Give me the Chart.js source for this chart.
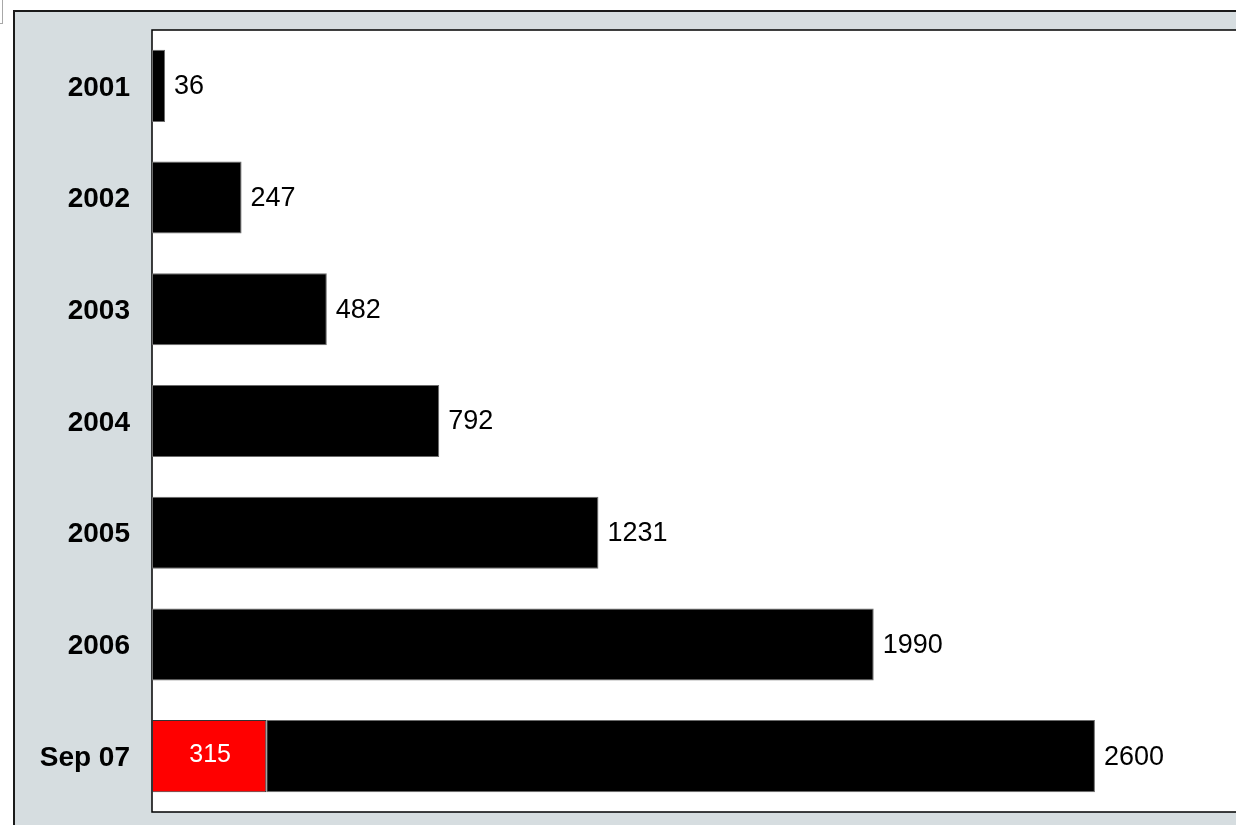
<!DOCTYPE html>
<html>
<head>
<meta charset="utf-8">
<script src="https://cdn.jsdelivr.net/npm/chart.js@4"></script>
<style>
  html, body { margin: 0; padding: 0; background: #ffffff; overflow: hidden; width: 1236px; height: 825px; }
  #wrap { position: absolute; left: 0; top: 0; width: 1260px; height: 825px; }
</style>
</head>
<body>
<div id="wrap"><canvas id="c" width="1260" height="825"></canvas></div>
<script>
const categories = ['2001', '2002', '2003', '2004', '2005', '2006', 'Sep 07'];
const totals = [36, 247, 482, 792, 1231, 1990, 2600];
const redPart = [null, null, null, null, null, null, 315];
const axisMax = 3000;

const FONT = '"Liberation Sans", Arial, sans-serif';

const framePlugin = {
  id: 'frame',
  beforeDraw(chart) {
    const ctx = chart.ctx;
    const a = chart.chartArea;
    ctx.save();
    ctx.fillStyle = '#ffffff';
    ctx.fillRect(0, 0, chart.width, chart.height);
    // small mark at top-left
    ctx.strokeStyle = '#a8a8a8';
    ctx.lineWidth = 1;
    ctx.strokeRect(-5.5, -5.5, 8, 29);
    // outer grey panel
    ctx.fillStyle = '#d6dde0';
    ctx.fillRect(14, 11, chart.width, chart.height);
    ctx.strokeStyle = '#1a1a1a';
    ctx.lineWidth = 2;
    ctx.beginPath();
    ctx.moveTo(14, chart.height + 5);
    ctx.lineTo(14, 11);
    ctx.lineTo(chart.width + 5, 11);
    ctx.stroke();
    // plot area
    ctx.fillStyle = '#ffffff';
    ctx.fillRect(a.left, a.top, a.right - a.left, a.bottom - a.top);
    ctx.strokeStyle = '#000000';
    ctx.lineWidth = 1.5;
    ctx.strokeRect(a.left, a.top, a.right - a.left, a.bottom - a.top);
    ctx.restore();
  }
};

const labelPlugin = {
  id: 'valueLabels',
  afterDatasetsDraw(chart) {
    const ctx = chart.ctx;
    ctx.save();
    ctx.textBaseline = 'middle';
    const blackMeta = chart.getDatasetMeta(1);
    blackMeta.data.forEach((bar, i) => {
      ctx.fillStyle = '#000000';
      ctx.font = '27px ' + FONT;
      ctx.textAlign = 'left';
      ctx.fillText(String(totals[i]), bar.x + 9, bar.y + 1);
    });
    const redMeta = chart.getDatasetMeta(0);
    redMeta.data.forEach((bar, i) => {
      if (redPart[i] == null) return;
      ctx.fillStyle = '#ffffff';
      ctx.font = '25px ' + FONT;
      ctx.textAlign = 'center';
      ctx.fillText(String(redPart[i]), (bar.x + bar.base) / 2 + 1, bar.y - 1);
    });
    ctx.restore();
  }
};

new Chart(document.getElementById('c'), {
  type: 'bar',
  data: {
    labels: categories,
    datasets: [
      {
        label: 'red',
        data: redPart.map(v => v == null ? null : [0, v]),
        backgroundColor: '#ff0000',
        borderColor: '#333333',
        borderWidth: 1,
        borderSkipped: false,
        grouped: false,
        categoryPercentage: 1,
        barPercentage: 0.645
      },
      {
        label: 'total',
        data: totals.map((t, i) => [redPart[i] || 0, t]),
        backgroundColor: '#000000',
        borderColor: '#6b6b6b',
        borderWidth: 1,
        borderSkipped: false,
        grouped: false,
        categoryPercentage: 1,
        barPercentage: 0.645
      }
    ]
  },
  options: {
    indexAxis: 'y',
    responsive: false,
    animation: false,
    devicePixelRatio: 1,
    layout: { padding: { left: 0, top: 30, right: 20, bottom: 13 } },
    plugins: {
      legend: { display: false },
      tooltip: { enabled: false },
      title: { display: false }
    },
    scales: {
      x: {
        display: false,
        min: 0,
        max: axisMax,
        grid: { display: false }
      },
      y: {
        grid: { display: false, drawTicks: false },
        border: { display: false },
        afterFit(scale) {
          scale.width = 152;
          scale.paddingTop = 0;
          scale.paddingBottom = 0;
        },
        ticks: {
          color: '#000000',
          padding: 22,
          labelOffset: 2,
          font: { family: FONT, size: 28, weight: 'bold' }
        }
      }
    }
  },
  plugins: [framePlugin, labelPlugin]
});
</script>
</body>
</html>
